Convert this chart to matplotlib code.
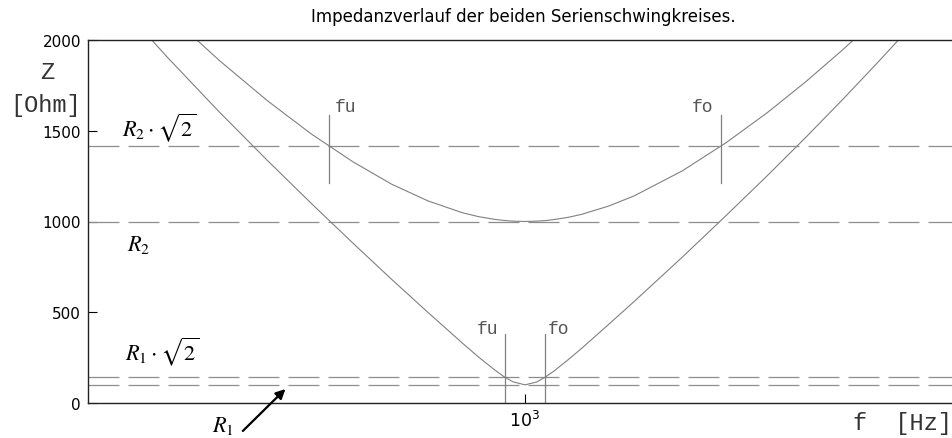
import matplotlib
matplotlib.use("Agg")
import matplotlib.pyplot as plt

# ---- data ----
freq = [480, 500, 550, 600, 650, 700, 750, 800, 850, 900, 925, 950, 965, 980,
        1000, 1020, 1035, 1050, 1075, 1100, 1150, 1200, 1300, 1400, 1500,
        1600, 1700, 1800, 1900, 2000, 2100]
z_r1 = [2407, 2252, 1905, 1603, 1337, 1098, 881, 682, 500, 332, 254, 184, 146, 117,
        100, 116, 144, 177, 239, 303, 433, 559, 802, 1034, 1254,
        1466, 1671, 1870, 2063, 2252, 2438]
z_r2 = [2605, 2462, 2149, 1887, 1666, 1481, 1329, 1206, 1114, 1049, 1027, 1012, 1006, 1002,
        1000, 1002, 1005, 1011, 1023, 1040, 1085, 1141, 1278, 1435, 1601,
        1772, 1945, 2118, 2291, 2462, 2633]
levels = [141, 100, 1414, 1000]          # R1*sqrt2, R1, R2*sqrt2, R2
band_r2 = [721, 1387]                     # fu, fo for R2
band_r1 = [967, 1034]                     # fu, fo for R1
yticks = [0, 500, 1000, 1500, 2000]
xticks = [1000]
xtick_labels = [r"$\mathregular{10^{3}}$"]

plt.rcParams["lines.scale_dashes"] = False
plt.rcParams["mathtext.fontset"] = "stix"

W, H = 953, 439
fig = plt.figure(figsize=(W / 100, H / 100), dpi=100)
ax_l, ax_r, ax_t, ax_b = 88, 960, 41, 404
ax = fig.add_axes([ax_l / W, (H - ax_b) / H, (ax_r - ax_l) / W, (ax_b - ax_t) / H])

ax.set_xscale("log")
ax.set_xlim(481.7, 2069)
ax.set_ylim(0, 2000)

curve_col = "#808080"
dash_col = "#8c8c8c"
for lv in levels:
    ax.axhline(lv, color=dash_col, lw=0.9, dashes=(22.3, 6.5))
ax.plot(freq, z_r1, color=curve_col, lw=0.8)
ax.plot(freq, z_r2, color=curve_col, lw=0.8)

for f in band_r2:
    ax.plot([f, f], [1213, 1589], color=curve_col, lw=0.9)
for f in band_r1:
    ax.plot([f, f], [0, 382], color=curve_col, lw=0.9)

mono = "Liberation Mono"
ax.text(728, 1636, "fu", family=mono, fontsize=13, color="#555555", va="center", ha="left")
ax.text(1322, 1636, "fo", family=mono, fontsize=13, color="#555555", va="center", ha="left")
ax.text(923, 413, "fu", family=mono, fontsize=13, color="#555555", va="center", ha="left")
ax.text(1039, 413, "fo", family=mono, fontsize=13, color="#555555", va="center", ha="left")

ax.text(450, 1829, "Z", family=mono, fontsize=17, color="#333333", va="center", ha="center")
ax.text(449, 1642, "[Ohm]", family=mono, fontsize=17, color="#333333", va="center", ha="center")
ax.text(2041, -105, "f  [Hz]", family=mono, fontsize=17, color="#333333", va="center", ha="right")

ax.text(510, 1521, r"$R_2\cdot\sqrt{2}$", fontsize=16, va="center", ha="left")
ax.text(514, 876, r"$R_2$", fontsize=16, va="center", ha="left")
ax.text(512.5, 286, r"$R_1\cdot\sqrt{2}$", fontsize=16, va="center", ha="left")
ax.text(593, -121, r"$R_1$", fontsize=16, va="center", ha="left")
ax.annotate("", xy=(670, 77), xytext=(624, -154), annotation_clip=False,
            arrowprops=dict(arrowstyle="-|>", color="black", lw=1.6,
                            mutation_scale=14, shrinkA=0, shrinkB=0))

ax.set_yticks(yticks)
ax.set_yticklabels([str(v) for v in yticks])
ax.set_xticks(xticks)
ax.set_xticklabels(xtick_labels)
ax.xaxis.set_minor_locator(matplotlib.ticker.NullLocator())
ax.tick_params(direction="in", length=6.5, width=0.8, labelsize=11, colors="black")
ax.tick_params(axis="y", pad=5)
ax.tick_params(axis="x", pad=5, labelsize=12.5)
for lab in ax.get_xticklabels() + ax.get_yticklabels():
    lab.set_family("DejaVu Sans")

for s in ["left", "bottom", "top"]:
    ax.spines[s].set_linewidth(1.0)
    ax.spines[s].set_color("#222222")
ax.spines["right"].set_visible(False)

fig.text(523 / W, 1 - 17 / H, "Impedanzverlauf der beiden Serienschwingkreises.",
         ha="center", va="center", fontsize=12, family="DejaVu Sans")

fig.savefig("out.png", dpi=100)
